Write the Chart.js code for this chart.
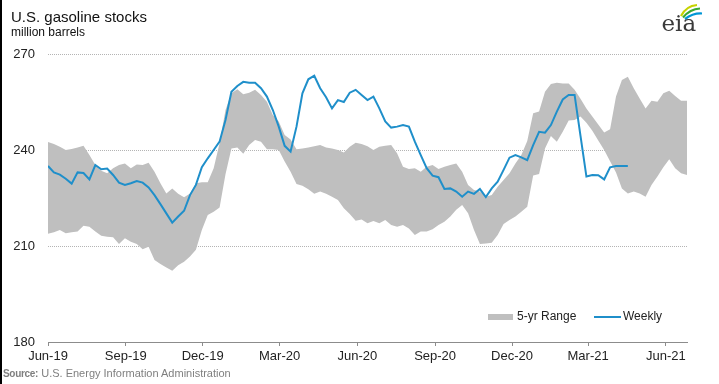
<!DOCTYPE html>
<html>
<head>
<meta charset="utf-8">
<script src="https://cdn.jsdelivr.net/npm/chart.js@4.4.1/dist/chart.umd.min.js"></script>
<style>
  html, body { margin: 0; padding: 0; background: #fff; overflow: hidden; }
  #wrap { position: relative; width: 719px; height: 384px; font-family: 'Liberation Sans', Arial, sans-serif; }
  #wrap::before { content: ''; position: absolute; left: 0; top: 0; width: 2px; height: 384px; background: #000; z-index: 3; }
  #chart { position: absolute; left: 0; top: 0; }
  .txt { position: absolute; white-space: nowrap; z-index: 2; }
  #title { left: 11px; top: 9px; font-size: 15px; line-height: 15px; color: #111; }
  #subtitle { left: 11px; top: 26px; font-size: 12px; line-height: 12px; color: #111; }
  #source { left: 3px; top: 368px; font-size: 11px; line-height: 11px; color: #7f7f7f; }
  #source b { font-size: 10px; letter-spacing: -0.3px; }
  .legend-text { top: 310px; font-size: 12px; line-height: 12px; color: #222; }
  .swatch { position: absolute; z-index: 2; }
  #logo { position: absolute; left: 650px; top: 0; z-index: 2; }
</style>
</head>
<body>
<div id="wrap">
  <canvas id="chart" width="719" height="384"></canvas>
  <div class="txt" id="title">U.S. gasoline stocks</div>
  <div class="txt" id="subtitle">million barrels</div>
  <div class="txt" id="source"><b>Source:</b> U.S. Energy Information Administration</div>

  <!-- legend, sits inside the plot area like the original -->
  <div class="swatch" style="left:488px; top:314px; width:25px; height:6px; background:#bfbfbf;"></div>
  <div class="txt legend-text" style="left:517px;">5-yr Range</div>
  <div class="swatch" style="left:594px; top:315.5px; width:27px; height:2px; background:#1f8fca;"></div>
  <div class="txt legend-text" style="left:623px;">Weekly</div>

  <svg id="logo" width="60" height="40" viewBox="0 0 60 40">
    <path d="M31 16 Q36 6 47 5" fill="none" stroke="#c6d300" stroke-width="2.2"/>
    <path d="M33 17.5 Q40 9 50 8.5" fill="none" stroke="#39a935" stroke-width="2.2"/>
    <path d="M35 19 Q43 13 52 13.5" fill="none" stroke="#0096d6" stroke-width="2.2"/>
    <text x="11.5" y="30.7" font-family="DejaVu Serif, serif" font-size="23" fill="#3a3a3a">eia</text>
  </svg>
</div>

<script>
// weekly values, week 0 = first week of Jun-19
const weeklyStocks = [
  235.0, 233.0, 232.3, 231.0, 229.5, 233.0, 232.8, 230.8, 235.3, 234.0,
  234.2, 232.2, 229.8, 229.1, 229.6, 230.3, 229.8, 228.3, 225.9, 223.1,
  220.2, 217.3, 219.2, 221.0, 225.9, 229.1, 234.6, 237.4, 240.0, 242.6,
  249.4, 258.2, 260.0, 261.3, 261.0, 261.0, 259.3, 256.7, 252.5, 247.3,
  241.3, 239.5, 247.3, 257.7, 262.1, 263.2, 259.3, 256.5, 253.0, 255.6,
  255.0, 257.9, 258.8, 257.2, 255.6, 256.7, 253.0, 248.9, 247.0, 247.3,
  247.8, 247.3, 242.6, 238.4, 234.3, 232.0, 231.5, 227.8, 228.0, 227.0,
  225.4, 227.0, 226.3, 227.8, 225.3, 228.0, 230.1, 233.8, 237.6, 238.4,
  237.7, 236.8, 241.5, 245.7, 245.4, 247.8, 252.0, 255.8, 257.2, 257.2,
  244.4, 231.7, 232.2, 232.1, 230.8, 234.6, 235.0, 235.0, 235.0
]

// 5-yr range, max and min
const rangeHigh = [
  242.5, 241.9, 241.0, 240.0, 240.3, 240.8, 241.3, 238.4, 235.3, 233.5,
  232.7, 234.3, 235.3, 235.8, 234.3, 235.5, 235.3, 236.0, 233.2, 229.6,
  226.4, 228.0, 226.3, 225.2, 226.4, 229.6, 229.9, 229.9, 234.3, 242.1,
  252.5, 257.7, 259.0, 257.4, 257.9, 258.8, 257.2, 255.1, 250.9, 248.9,
  244.7, 243.3, 240.2, 240.5, 240.8, 241.2, 241.6, 240.8, 240.5, 240.0,
  239.2, 241.0, 242.3, 241.9, 241.2, 240.0, 241.0, 241.3, 241.6, 239.0,
  234.8, 234.1, 234.3, 233.2, 234.8, 235.3, 234.1, 234.8, 235.3, 235.8,
  233.2, 229.1, 227.5, 227.0, 225.4, 225.9, 228.5, 230.6, 232.7, 235.8,
  238.4, 242.8, 251.5, 252.0, 258.2, 260.6, 261.0, 260.8, 260.8, 258.8,
  256.0, 253.0, 250.5, 248.0, 245.5, 246.5, 256.7, 261.9, 262.9, 259.3,
  256.1, 253.0, 255.4, 255.1, 257.7, 258.5, 256.9, 255.4, 255.4
]
const rangeLow = [
  213.8, 214.3, 215.0, 214.0, 214.3, 214.5, 216.3, 216.0, 214.5, 213.2,
  212.9, 212.7, 210.6, 212.4, 211.3, 210.6, 209.0, 209.8, 205.6, 204.4,
  203.3, 202.3, 204.0, 205.1, 206.7, 208.8, 215.0, 219.7, 220.7, 222.0,
  232.4, 240.5, 240.8, 238.8, 241.6, 243.1, 242.6, 240.2, 240.2, 240.0,
  236.4, 233.2, 229.4, 228.8, 227.7, 226.3, 227.0, 226.3, 225.4, 224.4,
  221.8, 220.0, 217.9, 218.3, 217.1, 217.8, 217.1, 218.1, 216.6, 216.0,
  216.6, 215.5, 213.4, 214.5, 214.5, 215.2, 216.6, 217.6, 219.2, 221.3,
  222.8, 220.2, 215.0, 210.6, 210.8, 211.0, 213.4, 216.9, 218.1, 219.2,
  220.7, 222.3, 232.0, 232.5, 240.5, 244.4, 242.6, 245.7, 249.2, 249.4,
  250.5, 248.5, 246.0, 243.0, 240.0, 236.5, 233.0, 228.0, 226.4, 227.0,
  226.4, 225.4, 229.1, 231.7, 234.6, 237.1, 234.3, 232.7, 232.2
]

const axisStart = '2019-06-01'
const tickDates = ['2019-06-01', '2019-09-01', '2019-12-01', '2020-03-01', '2020-06-01', '2020-09-01', '2020-12-01', '2021-03-01', '2021-06-01']
const tickLabels = ['Jun-19', 'Sep-19', 'Dec-19', 'Mar-20', 'Jun-20', 'Sep-20', 'Dec-20', 'Mar-21', 'Jun-21']
const yTicks = [180, 210, 240, 270]

const lineColour = '#1f8fca'
const bandColour = '#bfbfbf'

// tick dates -> position in weeks from the axis start
const dayMs = 86400000
const tickWeeks = tickDates.map((d) => (Date.parse(d) - Date.parse(axisStart)) / (7 * dayMs))

const toPoints = (arr) => arr.map((v, i) => ({ x: i, y: v }))

Chart.defaults.font.family = "'Liberation Sans', Arial, sans-serif"

const chart = new Chart(document.getElementById('chart'), {
  type: 'line',
  data: {
    datasets: [
      {
        label: 'Weekly',
        data: toPoints(weeklyStocks),
        borderColor: lineColour,
        borderWidth: 2,
        pointRadius: 0,
        fill: false,
        order: 0,
      },
      {
        label: 'low',
        data: toPoints(rangeLow),
        borderWidth: 0,
        borderColor: 'rgba(0,0,0,0)',
        pointRadius: 0,
        fill: false,
        order: 2,
      },
      {
        label: '5-yr Range',
        data: toPoints(rangeHigh),
        borderWidth: 0,
        borderColor: 'rgba(0,0,0,0)',
        backgroundColor: bandColour,
        pointRadius: 0,
        fill: '-1',
        order: 1,
      },
    ],
  },
  options: {
    responsive: false,
    animation: false,
    events: [],
    layout: {
      padding: { top: 54, right: 32, bottom: 0, left: 0 },
    },
    plugins: {
      legend: { display: false },
      tooltip: { enabled: false },
    },
    scales: {
      x: {
        type: 'linear',
        min: 0,
        max: rangeHigh.length - 1,
        afterBuildTicks: (scale) => {
          scale.ticks = tickWeeks.map((v) => ({ value: v }))
        },
        afterFit: (scale) => {
          scale.height = 42
        },
        ticks: {
          autoSkip: false,
          maxRotation: 0,
          padding: 3,
          color: '#222',
          font: { size: 13 },
          callback: (value, index) => tickLabels[index],
        },
        grid: {
          drawOnChartArea: false,
          drawTicks: true,
          tickLength: 4,
          color: '#8c8c8c',
        },
        border: { display: true, color: '#8c8c8c', width: 1 },
      },
      y: {
        min: yTicks[0],
        max: yTicks[yTicks.length - 1],
        afterBuildTicks: (scale) => {
          scale.ticks = yTicks.map((v) => ({ value: v }))
        },
        afterFit: (scale) => {
          scale.width = 48
        },
        ticks: {
          padding: 13,
          color: '#222',
          font: { size: 13 },
        },
        grid: {
          drawTicks: false,
          color: (ctx) => (ctx.tick && ctx.tick.value === yTicks[0] ? 'rgba(0,0,0,0)' : '#b4b4b4'),
        },
        border: { display: false, dash: [1, 1] },
      },
    },
  },
})
</script>
</body>
</html>
